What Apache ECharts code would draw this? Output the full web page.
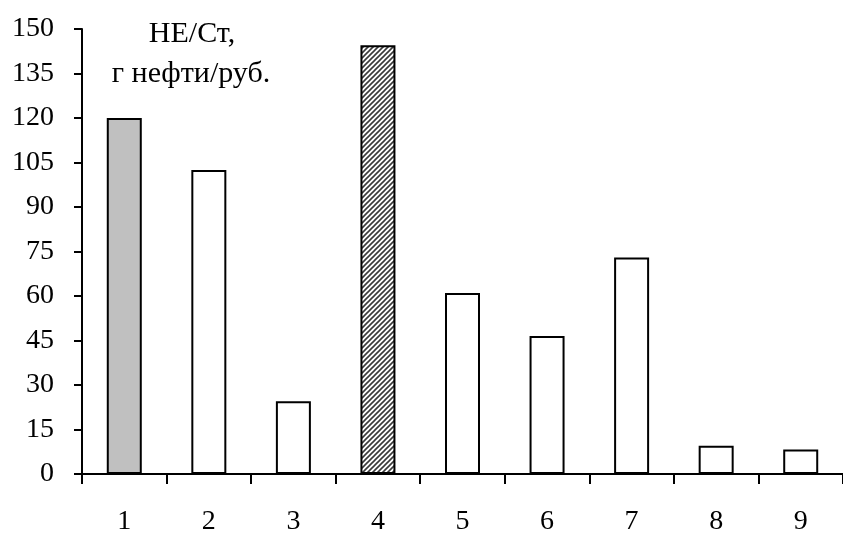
<!DOCTYPE html>
<html><head><meta charset="utf-8">
<script src="https://cdn.jsdelivr.net/npm/echarts@6/dist/echarts.min.js"></script>
<style>html,body{margin:0;padding:0;background:#fff}#c{width:843px;height:536px}</style>
</head><body><div id="c"></div>
<script>
const categories = ['1','2','3','4','5','6','7','8','9'];
const values = [120, 102.5, 24.5, 144.5, 61, 46.5, 73, 9.5, 8.3];
const yTicks = [0,15,30,45,60,75,90,105,120,135,150];
const titleLines = ['НЕ/Ст,', 'г нефти/руб.'];

// hatch pattern
const pc = document.createElement('canvas');
pc.width = 5; pc.height = 5;
const g = pc.getContext('2d');
g.fillStyle = '#ffffff'; g.fillRect(0,0,5,5);
g.strokeStyle = '#3a3a3a'; g.lineWidth = 1.6;
g.beginPath();
g.moveTo(-1,6); g.lineTo(6,-1);
g.moveTo(-1,1); g.lineTo(1,-1);
g.moveTo(4,6); g.lineTo(6,4);
g.stroke();

const fills = {0: '#c0c0c0', 3: {image: pc, repeat: 'repeat'}};
const data = values.map((v,i)=>({value:v, itemStyle:{color: fills[i] || '#ffffff'}}));

const font = '"Liberation Serif","Times New Roman",serif';
const chart = echarts.init(document.getElementById('c'), null, {renderer:'canvas'});
chart.setOption({
  animation:false,
  backgroundColor:'#fff',
  grid:{left:82, top:29, width:768, bottom:61, containLabel:false},
  xAxis:{
    type:'category', data:categories,
    axisLine:{lineStyle:{color:'#000', width:2}},
    axisTick:{show:true, alignWithLabel:false, length:10, lineStyle:{color:'#000', width:2}},
    axisLabel:{color:'#000', fontFamily:font, fontSize:28, margin:34}
  },
  yAxis:{
    type:'value', min:yTicks[0], max:yTicks[yTicks.length-1], interval:yTicks[1]-yTicks[0],
    splitLine:{show:false},
    axisLine:{show:true, lineStyle:{color:'#000', width:2}},
    axisTick:{show:true, length:8, lineStyle:{color:'#000', width:2}},
    axisLabel:{color:'#000', fontFamily:font, fontSize:28, margin:28}
  },
  series:[{
    type:'bar', data:data, barWidth:35,
    itemStyle:{borderColor:'#000', borderWidth:2}
  }],
  graphic:[
    {type:'text', x:192, y:34, style:{text:titleLines[0], fill:'#000', font:'30px '+font, textAlign:'center', textVerticalAlign:'middle'}},
    {type:'text', x:191, y:74, style:{text:titleLines[1], fill:'#000', font:'30px '+font, textAlign:'center', textVerticalAlign:'middle'}}
  ]
});
</script></body></html>
